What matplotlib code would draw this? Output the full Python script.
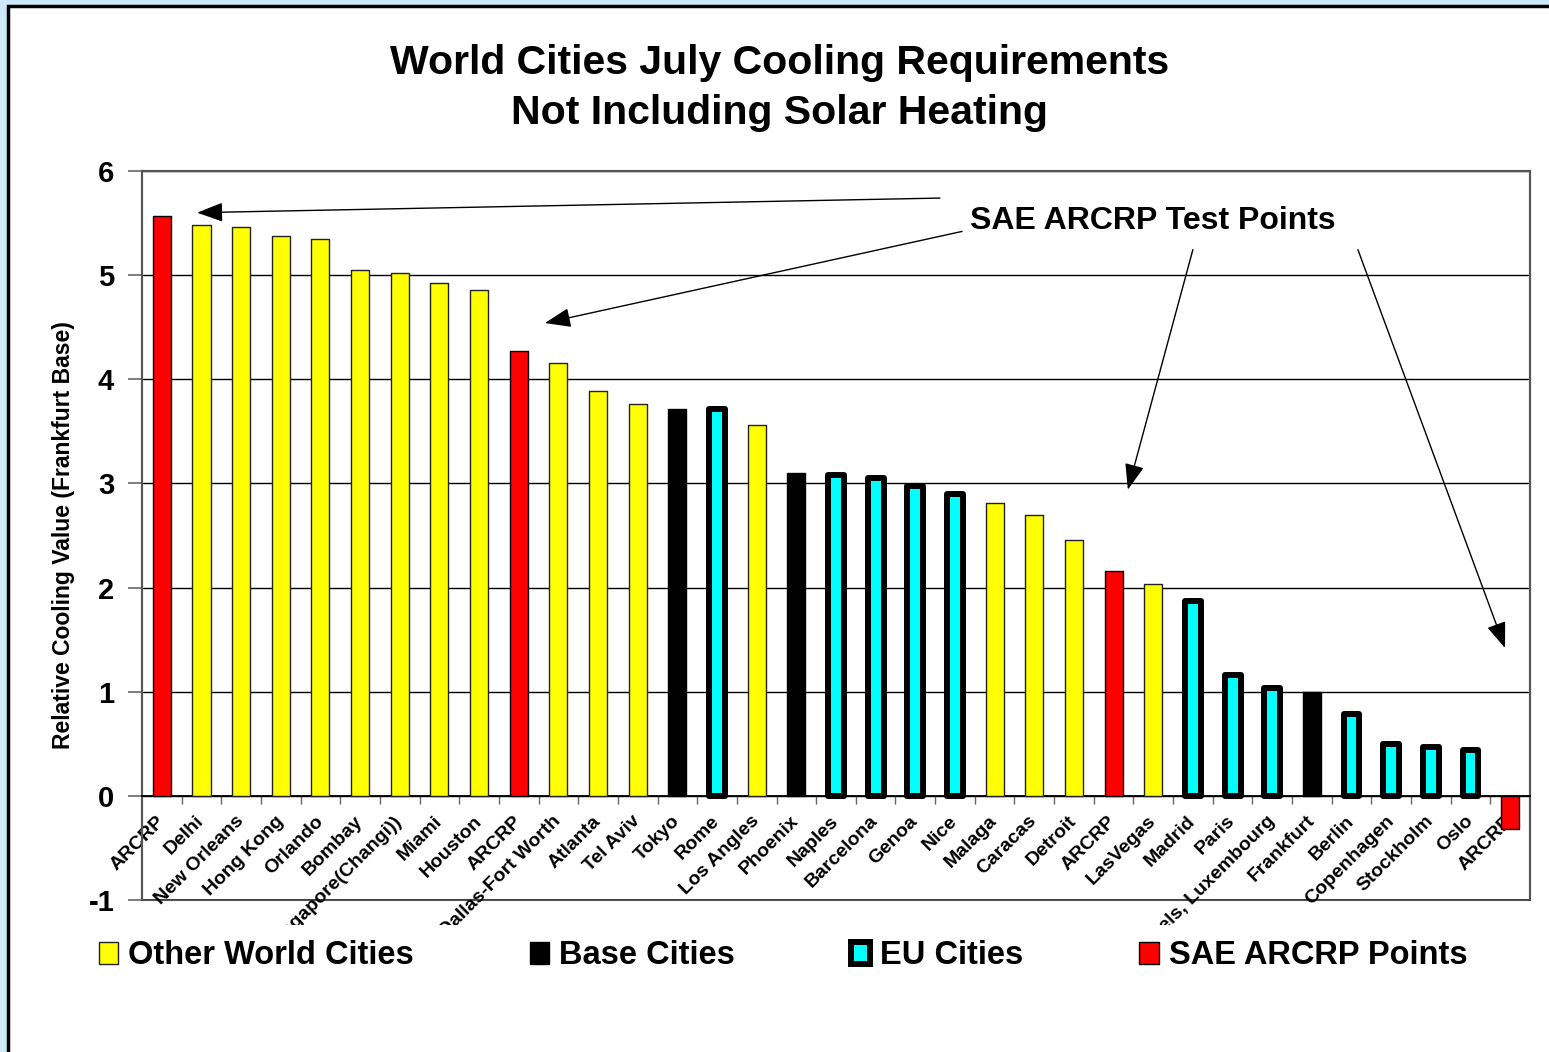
import matplotlib
matplotlib.use("Agg")
import matplotlib.pyplot as plt
import numpy as np
from matplotlib.patches import Rectangle
from matplotlib.transforms import Bbox, TransformedBbox, ScaledTranslation

plt.rcParams['font.family'] = ['Liberation Sans', 'DejaVu Sans']
plt.rcParams['font.weight'] = 'bold'

cities = ["ARCRP", "Delhi", "New Orleans", "Hong Kong", "Orlando", "Bombay",
          "Singapore(Changi))", "Miami", "Houston", "ARCRP", "Dallas-Fort Worth",
          "Atlanta", "Tel Aviv", "Tokyo", "Rome", "Los Angles", "Phoenix", "Naples",
          "Barcelona", "Genoa", "Nice", "Malaga", "Caracas", "Detroit", "ARCRP",
          "LasVegas", "Madrid", "Paris", "Brussels, Luxembourg", "Frankfurt",
          "Berlin", "Copenhagen", "Stockholm", "Oslo", "ARCRP"]
values = [5.57, 5.48, 5.46, 5.38, 5.35, 5.05, 5.02, 4.92, 4.86, 4.27, 4.16,
          3.89, 3.76, 3.71, 3.71, 3.56, 3.10, 3.08, 3.05, 2.98, 2.90, 2.81,
          2.70, 2.46, 2.16, 2.03, 1.87, 1.16, 1.04, 1.00, 0.79, 0.50, 0.47,
          0.44, -0.32]
groups = ["arcrp", "other", "other", "other", "other", "other", "other", "other",
          "other", "arcrp", "other", "other", "other", "base", "eu", "other",
          "base", "eu", "eu", "eu", "eu", "other", "other", "other", "arcrp",
          "other", "eu", "eu", "eu", "base", "eu", "eu", "eu", "eu", "arcrp"]
legend_labels = {"other": "Other World Cities", "base": "Base Cities",
                 "eu": "EU Cities", "arcrp": "SAE ARCRP Points"}
y_ticks = [-1, 0, 1, 2, 3, 4, 5, 6]

W, H = 1549, 1052
fig = plt.figure(figsize=(W / 100, H / 100), dpi=100)
fig.patch.set_facecolor('#cde9fb')
fig.add_artist(Rectangle((8 / W, -0.02), 1.1, (H - 6) / H + 0.02,
                         transform=fig.transFigure, facecolor='white',
                         edgecolor='black', lw=2.5, zorder=-5))

ax = fig.add_axes([142 / W, 1 - 900 / H, (1530 - 142) / W, (900 - 171) / H])
x = np.arange(len(cities))
vals = np.array(values)
grp = np.array(groups)

styles = {
    "other": dict(width=0.455, color='#ffff00', edgecolor='#222222', linewidth=1.0),
    "base": dict(width=0.455, color='black', edgecolor='black', linewidth=1.0),
    "eu": dict(width=0.40, color='#00ffff', edgecolor='black', linewidth=4.3),
    "arcrp": dict(width=0.455, color='#ff0000', edgecolor='black', linewidth=1.0),
}
handles = {}
for g in ["other", "base", "eu", "arcrp"]:
    m = grp == g
    bc = ax.bar(x[m], vals[m], zorder=3, label=legend_labels[g], **styles[g])
    for p in bc.patches:
        p.set_joinstyle('round')
    handles[g] = bc

ax.set_xlim(-0.5, len(cities) - 0.5)
ax.set_ylim(-1, 6)
ax.set_yticks(y_ticks)
ax.set_yticklabels([str(t) for t in y_ticks], fontsize=21, fontweight='bold')
ax.tick_params(axis='y', length=10, width=1.2, color='#666666', pad=10)
ax.yaxis.grid(True, color='black', lw=1.0)
ax.set_axisbelow(True)
ax.set_ylabel("Relative Cooling Value (Frankfurt Base)", fontsize=16.5,
              fontweight='bold', labelpad=10)

for s in ['top', 'left', 'right']:
    ax.spines[s].set_color('#555555')
    ax.spines[s].set_linewidth(1.5)
ax.spines['bottom'].set_position(('data', 0))
ax.spines['bottom'].set_color('black')
ax.spines['bottom'].set_linewidth(1.3)
ax.patch.set_edgecolor('#555555')
ax.patch.set_linewidth(1.5)

ax.set_xticks(x)
ax.set_xticks(np.arange(0.5, len(cities) - 0.5, 1.0), minor=True)
ax.tick_params(axis='x', which='major', length=0, pad=12)
ax.tick_params(axis='x', which='minor', length=6, color='#666666', width=1)
ax.set_xticklabels(cities, rotation=45, ha='right', va='top',
                   rotation_mode='anchor', fontsize=14, fontweight='bold')
clip = TransformedBbox(Bbox.from_extents(0, 1 - 925 / H, 1, 1), fig.transFigure)
off = ScaledTranslation(-6 / 100, 0, fig.dpi_scale_trans)
for lab in ax.get_xticklabels():
    lab.set_clip_box(clip)
    lab.set_clip_on(True)
    lab.set_transform(lab.get_transform() + off)

fig.text(0.503, 1 - 88 / H, "World Cities July Cooling Requirements\nNot Including Solar Heating",
         ha='center', va='center', fontsize=29.5, fontweight='bold', linespacing=1.42)

ax.text(25.0, 5.52, "SAE ARCRP Test Points", ha='center', va='center',
        fontsize=23, fontweight='bold', zorder=5)
arrows = [((19.62, 5.74), (0.89, 5.60)),
          ((20.18, 5.42), (9.66, 4.54)),
          ((26.0, 5.245), (24.36, 2.94)),
          ((30.16, 5.245), (33.87, 1.42))]
for (sx, sy), (ex, ey) in arrows:
    ax.annotate("", xy=(ex, ey), xytext=(sx, sy),
                arrowprops=dict(arrowstyle='-|>,head_length=0.8,head_width=0.3',
                                color='black', lw=1.0, shrinkA=0, shrinkB=0,
                                mutation_scale=20), zorder=5)

fig.legend([handles[g] for g in ["other", "base", "eu", "arcrp"]],
           [legend_labels[g] for g in ["other", "base", "eu", "arcrp"]],
           loc='center', bbox_to_anchor=(783 / W, 1 - 956 / H), ncol=4,
           frameon=False, prop=dict(size=23.5, weight='bold'),
           handlelength=0.6, handleheight=0.65, handletextpad=0.3,
           columnspacing=3.55, borderpad=0, borderaxespad=0)

fig.savefig("out.png", dpi=100, facecolor=fig.get_facecolor())
